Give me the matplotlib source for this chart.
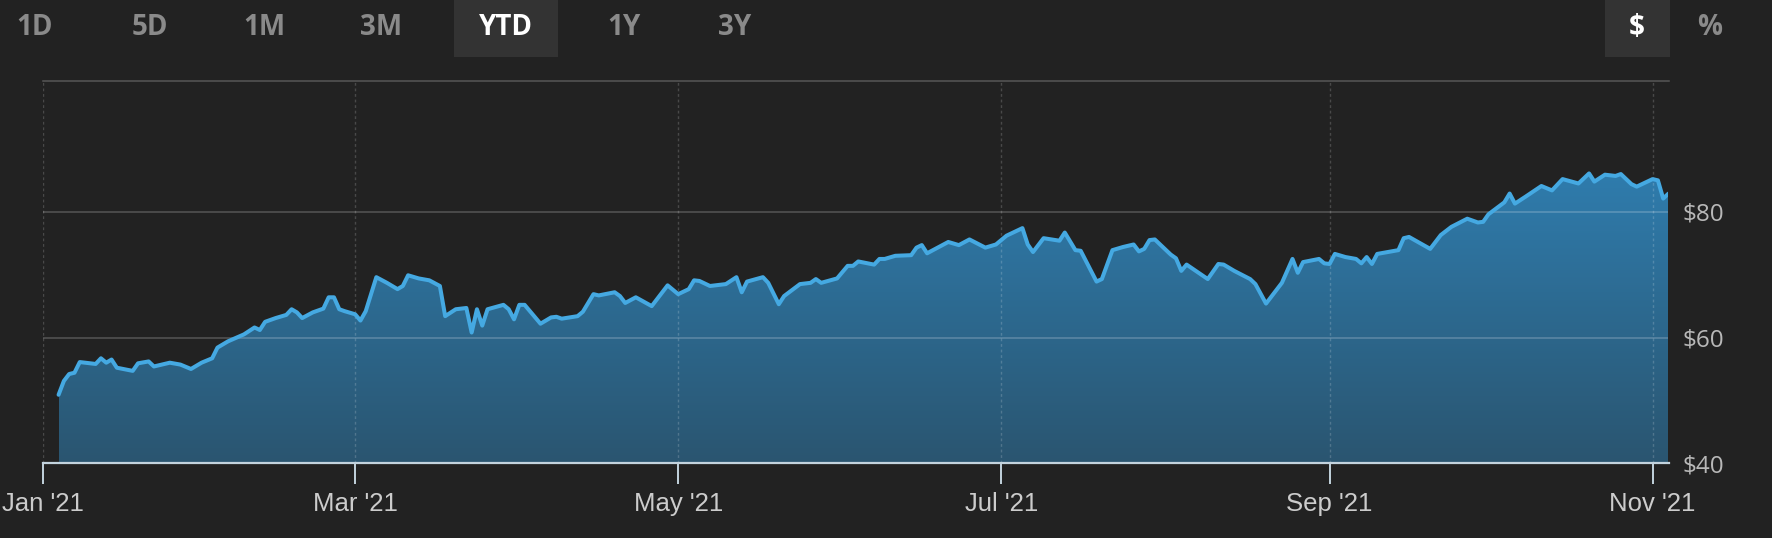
import matplotlib
matplotlib.use("Agg")
import numpy as np
import pandas as pd
import matplotlib.pyplot as plt
import matplotlib.dates as mdates
from matplotlib.colors import LinearSegmentedColormap

# price history (YTD 2021)
dates = [
    "2021-01-04", "2021-01-05", "2021-01-06", "2021-01-07", "2021-01-08", "2021-01-11",
    "2021-01-12", "2021-01-13", "2021-01-14", "2021-01-15", "2021-01-18", "2021-01-19",
    "2021-01-21", "2021-01-22", "2021-01-25", "2021-01-27", "2021-01-29", "2021-01-31",
    "2021-02-02", "2021-02-03", "2021-02-05", "2021-02-08", "2021-02-10", "2021-02-11",
    "2021-02-12", "2021-02-14", "2021-02-16", "2021-02-17", "2021-02-18", "2021-02-19",
    "2021-02-21", "2021-02-23", "2021-02-24", "2021-02-25", "2021-02-26", "2021-02-27",
    "2021-03-01", "2021-03-02", "2021-03-03", "2021-03-05", "2021-03-07", "2021-03-09",
    "2021-03-10", "2021-03-11", "2021-03-13", "2021-03-15", "2021-03-17", "2021-03-18",
    "2021-03-20", "2021-03-22", "2021-03-23", "2021-03-24", "2021-03-25", "2021-03-26",
    "2021-03-29", "2021-03-30", "2021-03-31", "2021-04-01", "2021-04-02", "2021-04-05",
    "2021-04-07", "2021-04-08", "2021-04-09", "2021-04-12", "2021-04-13", "2021-04-15",
    "2021-04-16", "2021-04-19", "2021-04-20", "2021-04-21", "2021-04-23", "2021-04-26",
    "2021-04-29", "2021-05-01", "2021-05-03", "2021-05-04", "2021-05-05", "2021-05-07",
    "2021-05-10", "2021-05-12", "2021-05-13", "2021-05-14", "2021-05-17", "2021-05-18",
    "2021-05-20", "2021-05-21", "2021-05-24", "2021-05-26", "2021-05-27", "2021-05-28",
    "2021-05-31", "2021-06-02", "2021-06-03", "2021-06-04", "2021-06-07", "2021-06-08",
    "2021-06-09", "2021-06-11", "2021-06-14", "2021-06-15", "2021-06-16", "2021-06-17",
    "2021-06-19", "2021-06-21", "2021-06-23", "2021-06-25", "2021-06-28", "2021-06-30",
    "2021-07-02", "2021-07-05", "2021-07-06", "2021-07-07", "2021-07-09", "2021-07-12",
    "2021-07-13", "2021-07-15", "2021-07-16", "2021-07-19", "2021-07-20", "2021-07-22",
    "2021-07-24", "2021-07-26", "2021-07-27", "2021-07-28", "2021-07-29", "2021-07-30",
    "2021-08-02", "2021-08-03", "2021-08-04", "2021-08-05", "2021-08-09", "2021-08-11",
    "2021-08-12", "2021-08-14", "2021-08-17", "2021-08-18", "2021-08-20", "2021-08-23",
    "2021-08-25", "2021-08-26", "2021-08-27", "2021-08-30", "2021-08-31", "2021-09-01",
    "2021-09-02", "2021-09-04", "2021-09-06", "2021-09-07", "2021-09-08", "2021-09-09",
    "2021-09-10", "2021-09-14", "2021-09-15", "2021-09-16", "2021-09-20", "2021-09-22",
    "2021-09-24", "2021-09-27", "2021-09-29", "2021-09-30", "2021-10-01", "2021-10-04",
    "2021-10-05", "2021-10-06", "2021-10-08", "2021-10-11", "2021-10-13", "2021-10-15",
    "2021-10-18", "2021-10-20", "2021-10-21", "2021-10-23", "2021-10-25", "2021-10-26",
    "2021-10-28", "2021-10-29", "2021-11-01", "2021-11-02", "2021-11-03", "2021-11-04",
]
prices = [
    50.9, 53.1, 54.2, 54.4, 56.1, 55.8,
    56.7, 56.0, 56.5, 55.2, 54.7, 55.9,
    56.2, 55.4, 56.0, 55.7, 55.0, 56.0,
    56.7, 58.4, 59.4, 60.5, 61.6, 61.2,
    62.5, 63.1, 63.6, 64.5, 64.0, 63.1,
    64.0, 64.6, 66.4, 66.4, 64.5, 64.2,
    63.7, 62.7, 64.2, 69.6, 68.7, 67.7,
    68.2, 69.9, 69.4, 69.1, 68.2, 63.4,
    64.5, 64.7, 60.8, 64.5, 61.9, 64.5,
    65.2, 64.5, 62.9, 65.2, 65.2, 62.2,
    63.2, 63.3, 63.0, 63.4, 64.1, 66.9,
    66.7, 67.2, 66.6, 65.5, 66.4, 65.0,
    68.3, 66.9, 67.7, 69.1, 69.0, 68.2,
    68.5, 69.6, 67.2, 68.9, 69.6, 68.7,
    65.3, 66.6, 68.5, 68.7, 69.3, 68.7,
    69.4, 71.4, 71.4, 72.1, 71.6, 72.5,
    72.5, 73.0, 73.1, 74.3, 74.7, 73.4,
    74.3, 75.2, 74.7, 75.6, 74.3, 74.8,
    76.2, 77.4, 74.8, 73.6, 75.8, 75.4,
    76.7, 73.9, 73.8, 68.9, 69.3, 73.9,
    74.4, 74.8, 73.7, 74.1, 75.5, 75.6,
    73.2, 72.6, 70.6, 71.6, 69.3, 71.7,
    71.6, 70.6, 69.3, 68.5, 65.4, 68.7,
    72.5, 70.3, 72.0, 72.5, 71.8, 71.7,
    73.3, 72.8, 72.5, 71.8, 72.8, 71.7,
    73.3, 73.9, 75.8, 76.0, 74.1, 76.3,
    77.6, 78.9, 78.3, 78.4, 79.6, 81.5,
    82.9, 81.3, 82.4, 84.1, 83.4, 85.2,
    84.5, 86.1, 84.8, 85.9, 85.7, 86.0,
    84.4, 84.0, 85.2, 85.0, 82.1, 82.9,
]

month_ticks = ["2021-01-01", "2021-03-01", "2021-05-01", "2021-07-01", "2021-09-01", "2021-11-01"]
month_labels = ["Jan '21", "Mar '21", "May '21", "Jul '21", "Sep '21", "Nov '21"]
price_ticks = [40, 60, 80]
price_labels = ["$40", "$60", "$80"]

range_buttons = ["1D", "5D", "1M", "3M", "YTD", "1Y", "3Y"]
active_range = "YTD"
unit_buttons = ["$", "%"]
active_unit = "$"

BG = "#222222"
W, H = 1772, 538

fig = plt.figure(figsize=(W / 100, H / 100), dpi=100, facecolor=BG)
ax = fig.add_axes([42.7 / W, (H - 463.3) / H, (1668.5 - 42.7) / W, (463.3 - 81) / H])
ax.set_facecolor(BG)

x = mdates.date2num(pd.to_datetime(dates))
y = np.array(prices)
y_bottom = 40
y_top = 100.8

# gradient area under the line
poly = ax.fill_between(x, y, y_bottom, facecolor="none", edgecolor="none")
grad = np.linspace(1, 0, 256).reshape(-1, 1)
cmap = LinearSegmentedColormap.from_list("area", ["#2a5570", "#2f7cad"])
im = ax.imshow(grad, cmap=cmap, aspect="auto", origin="upper",
               extent=[x[0], x[-1], y_bottom, y.max()], zorder=1)
im.set_clip_path(poly.get_paths()[0], transform=ax.transData)

ax.plot(x, y, color="#45a9e2", lw=2.9, solid_joinstyle="round",
        solid_capstyle="round", zorder=3)

ax.set_xlim(mdates.date2num(pd.Timestamp("2021-01-01")), x[-1])
ax.set_ylim(y_bottom, y_top)

# axes, ticks, grid
ax.set_axisbelow(False)
ax.set_xticks(mdates.date2num(pd.to_datetime(month_ticks)))
ax.set_xticklabels(month_labels, family=["Liberation Sans", "DejaVu Sans"],
                   fontsize=18.5, color="#cccccc")
ax.tick_params(axis="x", direction="out", length=15, width=1.4,
               color="#c3d3de", pad=6)
ax.grid(axis="x", color="white", alpha=0.18, lw=1.0, linestyle=(0, (2, 2)))

ax.yaxis.tick_right()
ax.set_yticks(price_ticks)
ax.set_yticklabels(price_labels, family=["Open Sans", "DejaVu Sans"],
                   fontsize=17.5, color="#b8b8b8")
ax.tick_params(axis="y", length=0, pad=10)
ax.grid(axis="y", color="white", alpha=0.2, lw=1.3)

for side in ["left", "right"]:
    ax.spines[side].set_visible(False)
ax.spines["top"].set_color("#575757")
ax.spines["top"].set_linewidth(1.1)
ax.spines["bottom"].set_color("#c3d3de")
ax.spines["bottom"].set_linewidth(1.6)
ax.spines["bottom"].set_zorder(4)

# range / unit selector buttons
range_x = [35, 150, 264, 381, 506, 624, 735]
unit_x = [1637, 1710]
btn_y = 1 - 35 / H


def draw_button(label, cx, active, box_w):
    if active:
        fig.patches.append(plt.Rectangle(((cx - box_w / 2) / W, 1 - 57 / H), box_w / W, 57 / H,
                                         transform=fig.transFigure, facecolor="#333333",
                                         edgecolor="none", zorder=0))
    fig.text(cx / W, btn_y, label, ha="center", va="baseline",
             family=["Open Sans", "DejaVu Sans"], fontweight="bold", fontsize=20,
             color="white" if active else "#8a8a8a")


for lab, cx in zip(range_buttons, range_x):
    draw_button(lab, cx, lab == active_range, 104)
for lab, cx in zip(unit_buttons, unit_x):
    draw_button(lab, cx, lab == active_unit, 65)

fig.savefig("out.png", dpi=100, facecolor=BG)
